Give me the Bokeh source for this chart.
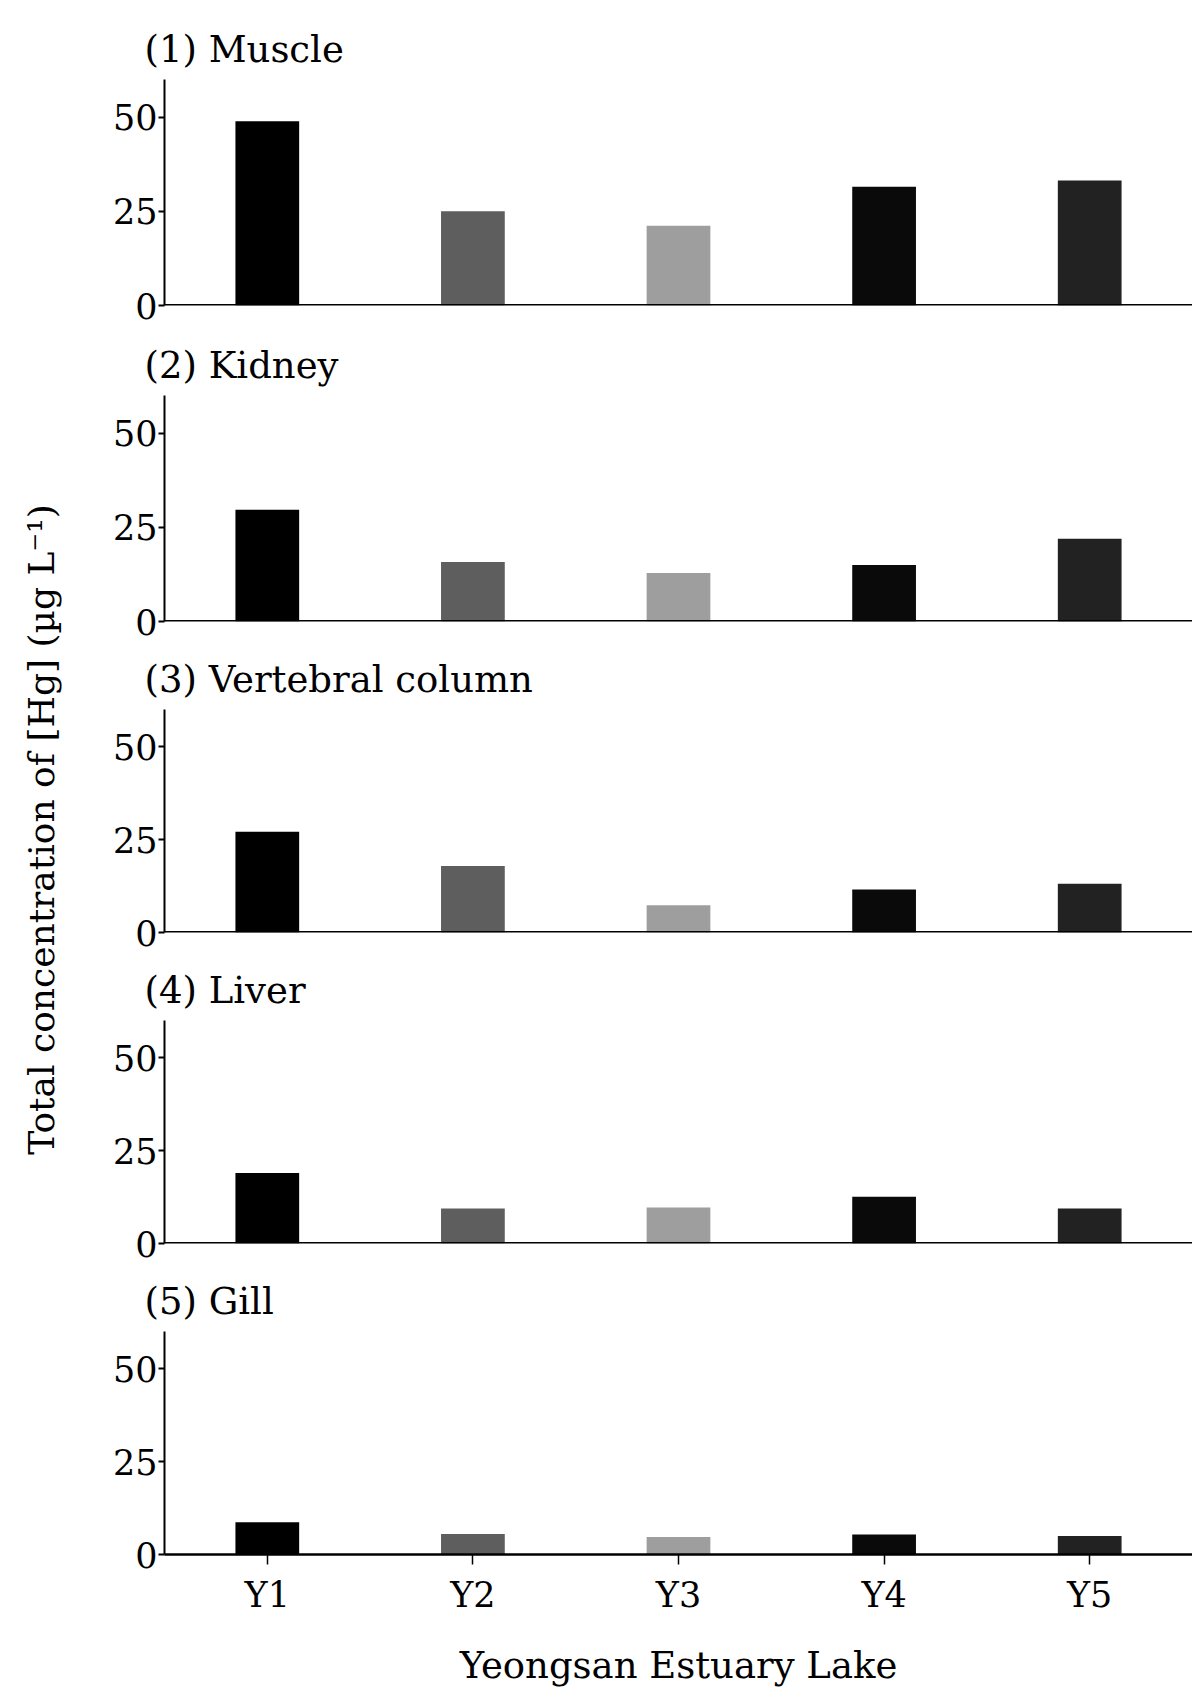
from math import pi
from bokeh.plotting import figure
from bokeh.layouts import row, column
from bokeh.models import FactorRange, Range1d, FixedTicker, Label, ColumnDataSource, Span
from bokeh.embed import file_html
from bokeh.resources import INLINE

stations = ["Y1", "Y2", "Y3", "Y4", "Y5"]
tissues = ["(1) Muscle", "(2) Kidney", "(3) Vertebral column", "(4) Liver", "(5) Gill"]
muscle = [48.9, 25.0, 21.2, 31.5, 33.2]
kidney = [29.7, 15.8, 12.9, 15.0, 22.0]
vertebral = [27.1, 17.9, 7.3, 11.6, 13.1]
liver = [19.0, 9.4, 9.7, 12.6, 9.4]
gill = [8.7, 5.5, 4.7, 5.4, 5.0]
y_ticks = [0, 25, 50]
series = [muscle, kidney, vertebral, liver, gill]

bar_colors = ["#000000", "#5e5e5e", "#9e9e9e", "#0a0a0a", "#222222"]
FONT = "DejaVu Serif"

TOTAL_H = 1689
LEFT_W = 74
PANEL_W = 1192 - LEFT_W
FRAME_H = 226
baselines = [305, 621, 932, 1243, 1554]

panels = []
fig_top = 0
for i, (name, vals) in enumerate(zip(tissues, series)):
    last = i == len(tissues) - 1
    fig_bottom = TOTAL_H if last else baselines[i] + 26
    h = fig_bottom - fig_top
    top_b = baselines[i] - FRAME_H - fig_top
    p = figure(x_range=FactorRange(*stations, range_padding=0), y_range=Range1d(0, 60),
               width=PANEL_W, height=h, output_backend="svg", toolbar_location=None,
               min_border_left=90, min_border_right=0, min_border_top=top_b,
               min_border_bottom=h - top_b - FRAME_H)
    fig_top = fig_bottom
    src = ColumnDataSource(dict(x=stations, top=vals, color=bar_colors))
    p.vbar(x="x", top="top", width=0.31, fill_color="color", line_color=None, source=src)
    p.title.text = name
    p.title.text_font = FONT
    p.title.text_font_size = "37px"
    p.title.text_font_style = "normal"
    p.title.text_color = "black"
    p.title.align = "left"
    p.title.offset = -20
    p.title.standoff = 17
    p.outline_line_color = None
    p.grid.grid_line_color = None
    p.background_fill_color = "white"
    p.border_fill_color = "white"

    ya = p.yaxis[0]
    ya.ticker = FixedTicker(ticks=y_ticks)
    ya.axis_line_width = 2
    ya.axis_line_color = "black"
    ya.major_tick_out = 6
    ya.major_tick_in = 0
    ya.major_tick_line_width = 2
    ya.minor_tick_line_color = None
    ya.major_label_standoff = 1
    ya.major_label_text_font = FONT
    ya.major_label_text_font_size = "35px"
    ya.major_label_text_color = "black"

    xa = p.xaxis[0]
    if last:
        xa.axis_line_width = 2.5
        xa.axis_line_color = "black"
        xa.major_tick_out = 10
        xa.major_tick_in = 0
        xa.major_tick_line_width = 1.5
        xa.major_label_standoff = 10
        xa.major_label_text_font = FONT
        xa.major_label_text_font_size = "35px"
        xa.major_label_text_color = "black"
        xa.axis_label = "Yeongsan Estuary Lake"
        xa.axis_label_text_font = FONT
        xa.axis_label_text_font_size = "37px"
        xa.axis_label_text_font_style = "normal"
        xa.axis_label_text_color = "black"
        xa.axis_label_standoff = 26
    else:
        xa.visible = False
        p.add_layout(Span(location=0, dimension="width", line_color="black", line_width=3))
    panels.append(p)

yt = figure(width=LEFT_W, height=TOTAL_H, x_range=Range1d(0, LEFT_W), y_range=Range1d(0, TOTAL_H),
            output_backend="svg", toolbar_location=None,
            min_border_left=0, min_border_right=0, min_border_top=0, min_border_bottom=0)
yt.axis.visible = False
yt.grid.grid_line_color = None
yt.outline_line_color = None
yt.add_layout(Label(x=41, y=TOTAL_H - 829, text="Total concentration of [Hg] (\u00b5g L\u207b\u00b9)",
                    angle=pi / 2, text_align="center", text_baseline="middle",
                    text_font=FONT, text_font_size="36px", text_color="black"))

layout = row(yt, column(*panels, spacing=0), spacing=0)
open("out.html", "w").write(file_html(layout, INLINE))
